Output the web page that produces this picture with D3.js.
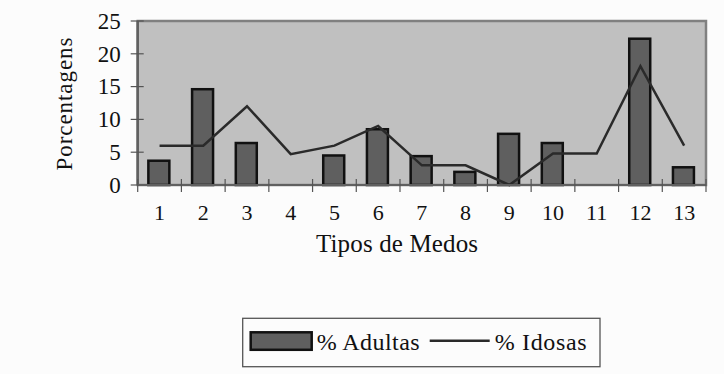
<!DOCTYPE html>
<html>
<head>
<meta charset="utf-8">
<script src="https://cdn.jsdelivr.net/npm/d3@7"></script>
<style>
  html, body { margin: 0; padding: 0; background: #fcfcfc; }
</style>
</head>
<body>
<div class="chart"></div>
<script>
var categories = ["1", "2", "3", "4", "5", "6", "7", "8", "9", "10", "11", "12", "13"];
var adultas = [3.7, 14.6, 6.4, 0, 4.5, 8.5, 4.4, 2.0, 7.8, 6.4, 0, 22.3, 2.7];
var idosas = [6.0, 6.0, 12.0, 4.7, 6.0, 9.0, 3.0, 3.0, 0, 4.8, 4.8, 18.1, 6.0];
var yTicks = [0, 5, 10, 15, 20, 25];

(function() {
  var width = 724,
    height = 374;
  var pLeft = 137.7, pRight = 706, pTop = 21, pBottom = 185; // plot area

  var svg = d3.select(".chart")
    .append("svg")
    .attr("width", width)
    .attr("height", height)
    .attr("font-family", "'Liberation Serif', 'DejaVu Serif', serif")
    .attr("fill", "#111");

  var x = d3.scaleBand()
    .domain(categories)
    .range([pLeft, pRight])
    .padding(0);

  var y = d3.scaleLinear()
    .domain([0, 25])
    .range([pBottom, pTop]);

  // grey plot area
  svg.append("rect")
    .attr("x", pLeft)
    .attr("y", pTop)
    .attr("width", pRight - pLeft)
    .attr("height", pBottom - pTop)
    .attr("fill", "#c0c0c0")
    .attr("stroke", "#808080")
    .attr("stroke-width", 2.5);

  // bars (% Adultas)
  var barData = adultas.map(function(v, i) { return { cat: categories[i], value: v }; })
    .filter(function(d) { return d.value > 0; });
  var barW = x.bandwidth() * 0.48;

  svg.selectAll("rect.bar")
    .data(barData)
    .enter()
    .append("rect")
    .attr("class", "bar")
    .attr("x", function(d) { return x(d.cat) + x.bandwidth() / 2 - barW / 2 - 0.7; })
    .attr("y", function(d) { return y(d.value); })
    .attr("width", barW)
    .attr("height", function(d) { return y(0) - y(d.value); })
    .attr("fill", "#5f5f5f")
    .attr("stroke", "#111")
    .attr("stroke-width", 2.5);

  // line (% Idosas)
  var line = d3.line()
    .x(function(d, i) { return x(categories[i]) + x.bandwidth() / 2; })
    .y(function(d) { return y(d); });

  svg.append("path")
    .datum(idosas)
    .attr("d", line)
    .attr("fill", "none")
    .attr("stroke", "#2a2a2a")
    .attr("stroke-width", 2.5);

  // y axis
  svg.append("line")
    .attr("x1", pLeft).attr("x2", pLeft)
    .attr("y1", pTop).attr("y2", pBottom)
    .attr("stroke", "#606060")
    .attr("stroke-width", 2.5);

  svg.selectAll("line.ytick")
    .data(yTicks)
    .enter()
    .append("line")
    .attr("class", "ytick")
    .attr("x1", pLeft - 7).attr("x2", pLeft + 6)
    .attr("y1", function(d) { return y(d); })
    .attr("y2", function(d) { return y(d); })
    .attr("stroke", "#555")
    .attr("stroke-width", 1.2);

  svg.selectAll("text.ylab")
    .data(yTicks)
    .enter()
    .append("text")
    .attr("class", "ylab")
    .attr("x", pLeft - 17)
    .attr("y", function(d) { return y(d); })
    .attr("dy", "0.34em")
    .attr("text-anchor", "end")
    .attr("font-size", 23)
    .text(function(d) { return d; });

  // x axis
  svg.append("line")
    .attr("x1", pLeft).attr("x2", pRight)
    .attr("y1", pBottom).attr("y2", pBottom)
    .attr("stroke", "#606060")
    .attr("stroke-width", 2);

  var xEdges = categories.map(function(c) { return x(c); }).concat([pRight]);
  svg.selectAll("line.xtick")
    .data(xEdges)
    .enter()
    .append("line")
    .attr("class", "xtick")
    .attr("x1", function(d) { return d; })
    .attr("x2", function(d) { return d; })
    .attr("y1", pBottom - 6).attr("y2", pBottom + 7)
    .attr("stroke", "#555")
    .attr("stroke-width", 1.2);

  svg.selectAll("text.xlab")
    .data(categories)
    .enter()
    .append("text")
    .attr("class", "xlab")
    .attr("x", function(d) { return x(d) + x.bandwidth() / 2; })
    .attr("y", 220)
    .attr("text-anchor", "middle")
    .attr("font-size", 22)
    .text(function(d) { return d; });

  // axis titles
  svg.append("text")
    .attr("transform", "translate(72,104) rotate(-90)")
    .attr("text-anchor", "middle")
    .attr("font-size", 23)
    .attr("textLength", 133)
    .text("Porcentagens");

  svg.append("text")
    .attr("x", 397)
    .attr("y", 252)
    .attr("text-anchor", "middle")
    .attr("font-size", 25)
    .attr("textLength", 162)
    .text("Tipos de Medos");

  // legend
  var lg = svg.append("g").attr("transform", "translate(242.7,318.3)");
  lg.append("rect")
    .attr("width", 357.3)
    .attr("height", 48.4)
    .attr("fill", "none")
    .attr("stroke", "#555")
    .attr("stroke-width", 1.3);
  lg.append("rect")
    .attr("x", 8).attr("y", 14)
    .attr("width", 61).attr("height", 17.5)
    .attr("fill", "#5f5f5f")
    .attr("stroke", "#111")
    .attr("stroke-width", 2.5);
  lg.append("text")
    .attr("x", 74).attr("y", 31.5)
    .attr("font-size", 24)
    .attr("textLength", 103)
    .text("% Adultas");
  lg.append("line")
    .attr("x1", 187).attr("x2", 247)
    .attr("y1", 22.4).attr("y2", 22.4)
    .attr("stroke", "#2a2a2a")
    .attr("stroke-width", 2.5);
  lg.append("text")
    .attr("x", 252).attr("y", 31.5)
    .attr("font-size", 24)
    .attr("textLength", 92)
    .text("% Idosas");
})();
</script>
</body>
</html>
